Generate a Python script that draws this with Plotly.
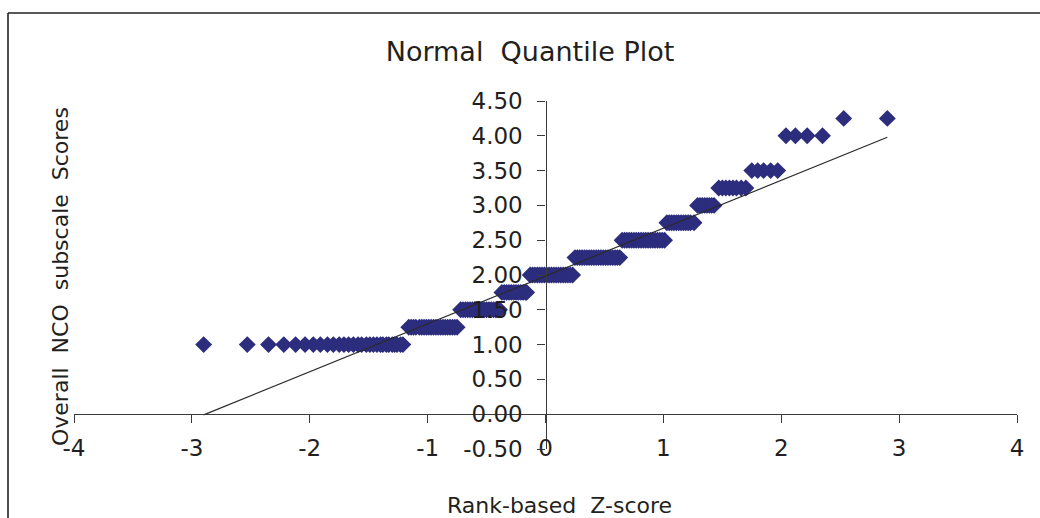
import plotly.graph_objects as go

# Overall NCO subscale scores (levels) and the rank-based z-scores read for each level
levels = [1.00, 1.25, 1.50, 1.75, 2.00, 2.25, 2.50, 2.75, 3.00, 3.25, 3.50, 4.00, 4.25]

z_100 = [-2.90, -2.53, -2.35, -2.22, -2.12, -2.04, -1.97, -1.91, -1.85, -1.80,
         -1.75, -1.71, -1.67, -1.63, -1.59, -1.56, -1.52, -1.49, -1.46, -1.43,
         -1.40, -1.38, -1.35, -1.33, -1.30, -1.28, -1.26, -1.23, -1.21]
z_125 = [-1.16, -1.14, -1.12, -1.10, -1.07, -1.05, -1.03, -1.01, -0.99, -0.97,
         -0.95, -0.93, -0.91, -0.89, -0.87, -0.85, -0.83, -0.81, -0.79, -0.77, -0.75]
z_150 = [-0.72, -0.70, -0.68, -0.66, -0.64, -0.62, -0.60, -0.58, -0.56, -0.54,
         -0.52, -0.50, -0.48, -0.46, -0.44, -0.42, -0.40, -0.39]
z_175 = [-0.37, -0.35, -0.33, -0.31, -0.29, -0.27, -0.25, -0.23, -0.21, -0.19,
         -0.17, -0.16]
z_200 = [-0.13, -0.11, -0.09, -0.07, -0.05, -0.03, -0.01, 0.01, 0.03, 0.05,
         0.07, 0.09, 0.11, 0.13, 0.15, 0.17, 0.19, 0.21, 0.23]
z_225 = [0.25, 0.27, 0.29, 0.31, 0.33, 0.35, 0.37, 0.39, 0.41, 0.43, 0.45,
         0.47, 0.49, 0.51, 0.53, 0.55, 0.57, 0.59, 0.61, 0.63]
z_250 = [0.65, 0.67, 0.69, 0.71, 0.73, 0.75, 0.77, 0.79, 0.81, 0.83, 0.85,
         0.87, 0.89, 0.91, 0.93, 0.95, 0.97, 0.99, 1.01]
z_275 = [1.03, 1.05, 1.07, 1.09, 1.11, 1.13, 1.15, 1.17, 1.19, 1.21, 1.23, 1.26]
z_300 = [1.29, 1.31, 1.33, 1.35, 1.37, 1.39, 1.41, 1.43]
z_325 = [1.47, 1.50, 1.53, 1.56, 1.59, 1.62, 1.66, 1.70]
z_350 = [1.75, 1.80, 1.85, 1.91, 1.97]
z_400 = [2.04, 2.12, 2.22, 2.35]
z_425 = [2.53, 2.90]

z_by_level = [z_100, z_125, z_150, z_175, z_200, z_225, z_250, z_275,
              z_300, z_325, z_350, z_400, z_425]

# fitted straight line (end points)
fit_x = [-2.90, 2.90]
fit_y = [-0.01, 3.98]

x_ticks = [-4, -3, -2, -1, 0, 1, 2, 3, 4]
y_ticks = [-0.5, 0.0, 0.5, 1.0, 1.5, 2.0, 2.5, 3.0, 3.5, 4.0, 4.5]

xs, ys = [], []
for lev, zs in zip(levels, z_by_level):
    xs += zs
    ys += [lev] * len(zs)

FONT = "DejaVu Sans, Verdana, sans-serif"
TXT = "#231f20"

# page margin is removed by the post script below, so the figure fills the window
W, H = 1040, 518
L = 74
T = 101
R = 1040 - 1017
B = 518 - 449
pw, ph = W - L - R, H - T - B
xr = [-4, 4]
yr = [-0.5, 4.5]


def px(x):
    return (x - L) / pw


def py(y):
    return (H - B - y) / ph


fig = go.Figure()
fig.add_trace(go.Scatter(
    x=xs, y=ys, mode="markers",
    marker=dict(symbol="diamond", size=13, color="#2d2d7e", line=dict(width=0)),
    showlegend=False, hoverinfo="x+y"))
fig.add_trace(go.Scatter(
    x=fit_x, y=fit_y, mode="lines",
    line=dict(color="#2a2a2a", width=1.2), showlegend=False, hoverinfo="skip"))

BORDER = dict(color="#222222", width=1.6)

fig.update_layout(
    width=W, height=H,
    margin=dict(l=L, r=R, t=T, b=B),
    paper_bgcolor="white", plot_bgcolor="white",
    font=dict(family=FONT, size=22, color=TXT),
    title=dict(text="Normal  Quantile Plot", x=530 / W, xanchor="center",
               y=1 - 52 / H, yanchor="middle", yref="container",
               font=dict(family=FONT, size=27, color=TXT)),
    xaxis=dict(range=xr, anchor="free", position=(0 - yr[0]) / (yr[1] - yr[0]),
               tickvals=x_ticks, ticktext=[str(v) for v in x_ticks],
               showline=True, linecolor="#3a3a3a", linewidth=1.3,
               ticks="outside", ticklen=8, tickcolor="#3a3a3a", tickwidth=1.3,
               showgrid=False, zeroline=False,
               tickfont=dict(family=FONT, size=23, color=TXT),
               ticklabelstandoff=5),
    yaxis=dict(range=yr, anchor="free", position=(0 - xr[0]) / (xr[1] - xr[0]),
               tickvals=y_ticks, ticktext=[f"{v:.2f}" for v in y_ticks],
               showline=True, linecolor="#3a3a3a", linewidth=1.3,
               ticks="outside", ticklen=8, tickcolor="#3a3a3a", tickwidth=1.3,
               showgrid=False, zeroline=False,
               tickfont=dict(family=FONT, size=23, color=TXT),
               ticklabelstandoff=10),
    annotations=[
        dict(text="Overall  NCO  subscale  Scores", xref="paper", yref="paper",
             x=px(60), y=py(277), xanchor="center", yanchor="middle",
             textangle=-90, showarrow=False, font=dict(family=FONT, size=22, color=TXT)),
        dict(text="Rank-based  Z-score", xref="paper", yref="paper",
             x=px(559), y=py(505), xanchor="center", yanchor="middle",
             showarrow=False, font=dict(family=FONT, size=22, color=TXT)),
    ],
    shapes=[
        # frame: top and left edges only (the rest lies outside the picture)
        dict(type="line", xref="paper", yref="paper",
             x0=px(8), x1=px(1060), y0=py(13), y1=py(13),
             line=BORDER, layer="below"),
        dict(type="line", xref="paper", yref="paper",
             x0=px(8), x1=px(8), y0=py(13), y1=py(540),
             line=BORDER, layer="below"),
    ],
)

fig.write_html(
    "out.html",
    config={"displayModeBar": False},
    post_script=("document.body.style.margin='0';"
                 "document.documentElement.style.overflow='hidden';"
                 "document.body.style.overflow='hidden';"),
)
